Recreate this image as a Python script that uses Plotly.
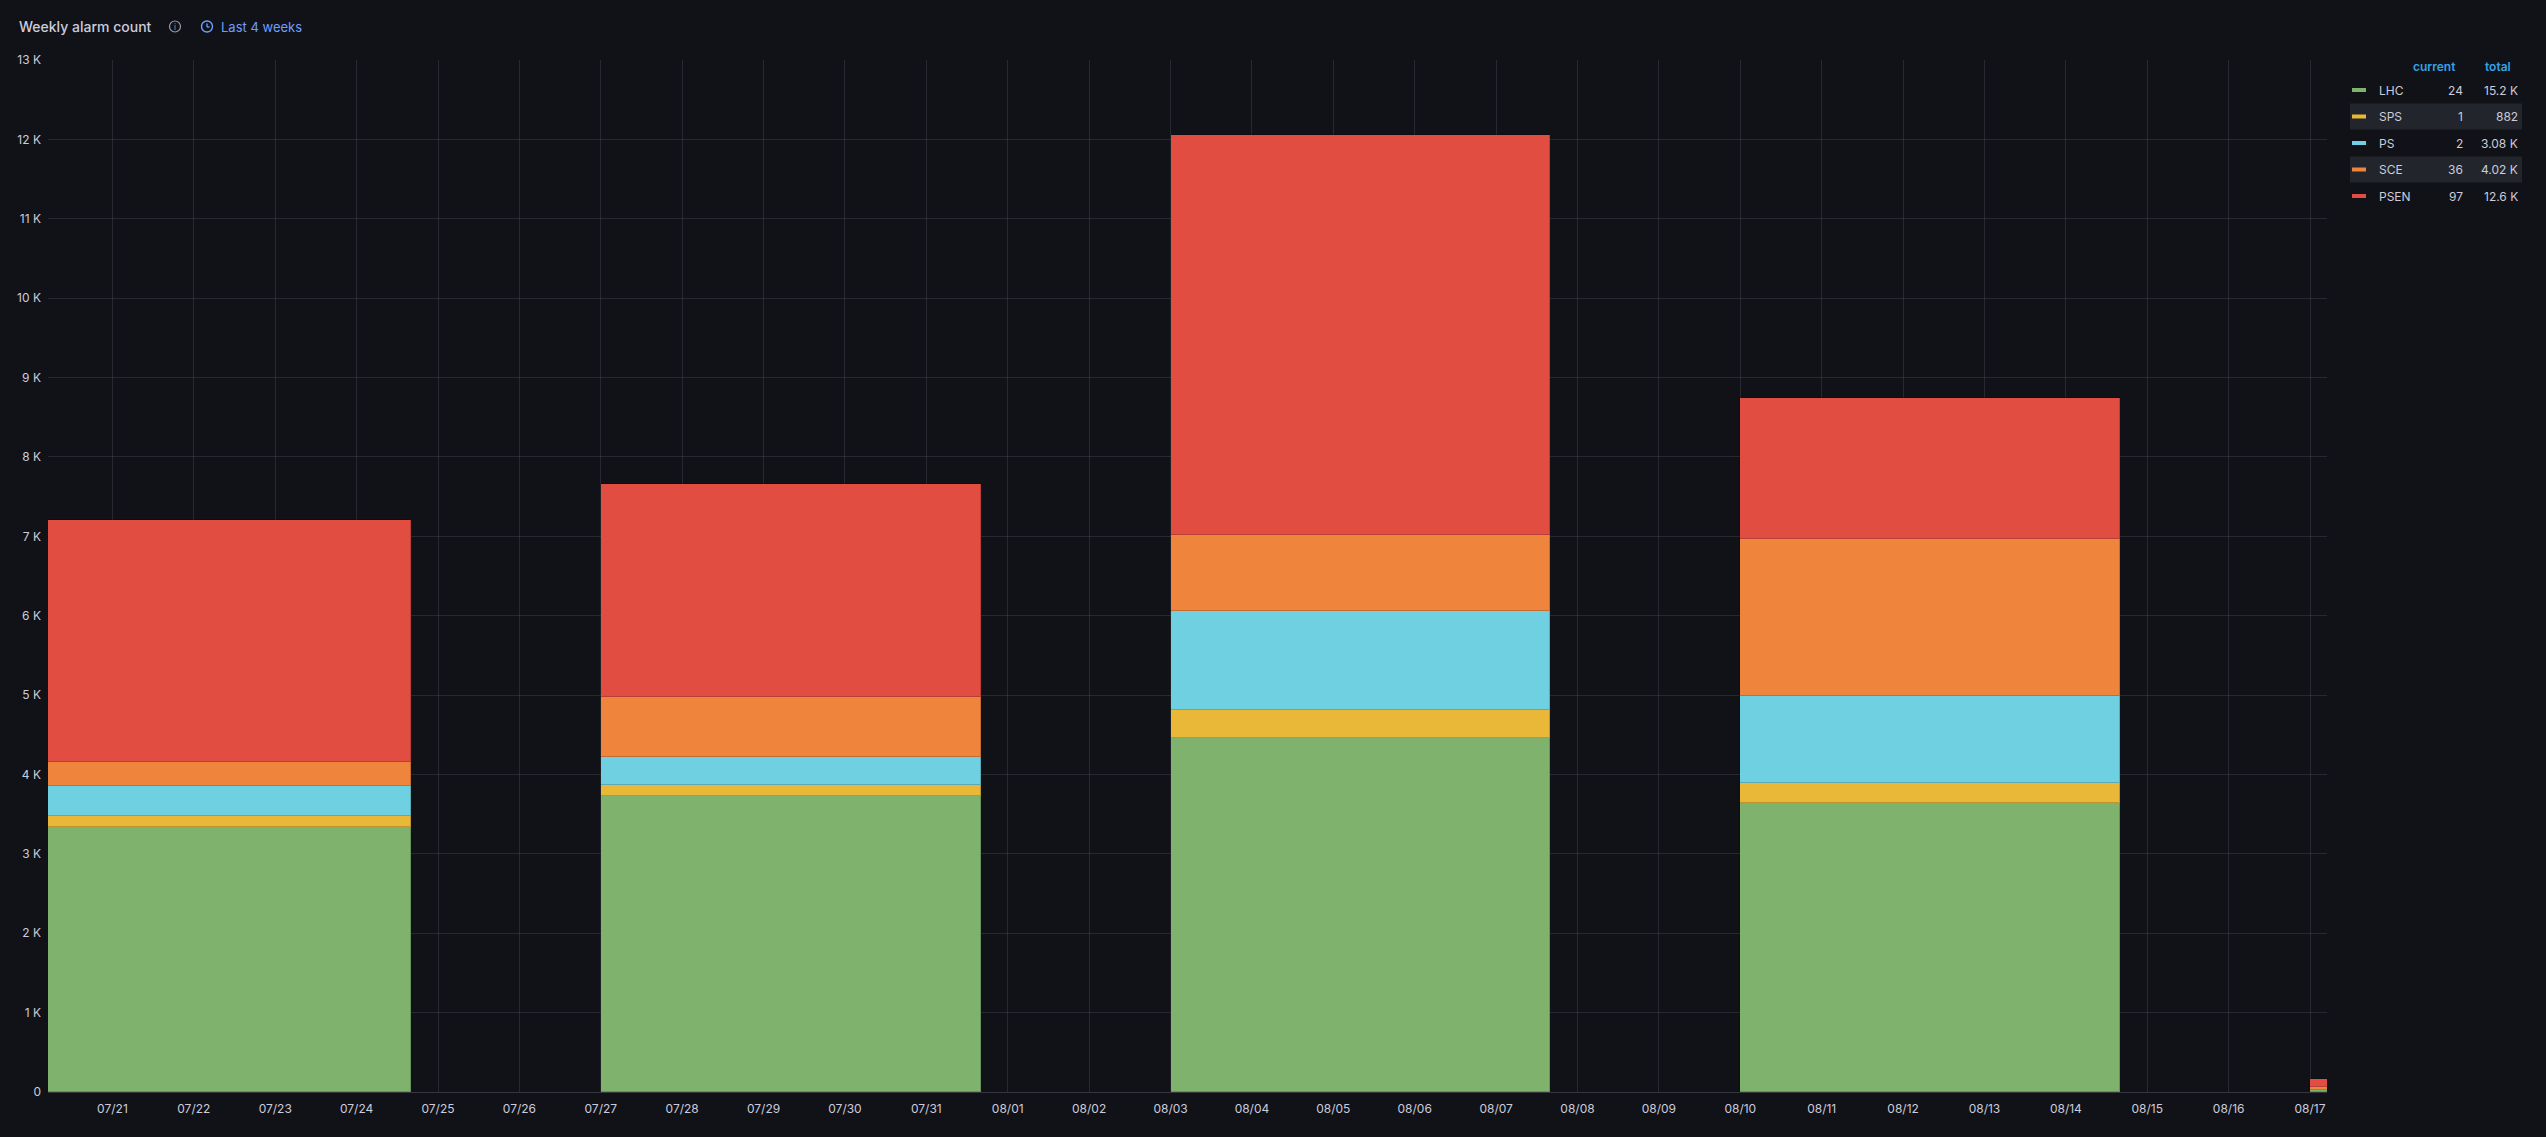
"""
Weekly alarm count - stacked weekly bars, Grafana dark style
"""
import plotly.graph_objects as go

# week start dates (one bar per week)
weeks = ["2025-07-20", "2025-07-27", "2025-08-03", "2025-08-10", "2025-08-17"]

# alarm counts per week
lhc = [3340, 3735, 4454, 3638, 24]
sps = [131, 136, 356, 258, 1]
ps = [378, 355, 1254, 1092, 2]
sce = [312, 745, 947, 1980, 36]
psen = [3045, 2690, 5040, 1775, 97]

series_names = ["LHC", "SPS", "PS", "SCE", "PSEN"]
series_colors = ["#7EB26D", "#EAB839", "#6ED0E0", "#EF843C", "#E24D42"]

y_ticks = list(range(0, 14000, 1000))
y_tick_labels = ["0"] + [f"{v // 1000} K" for v in y_ticks[1:]]

# page geometry (pixels)
W, H = 2546, 1137
L, R, T, B = 48, 2327, 60, 1092

BG = "#111217"
TEXT = "#ccccdc"
GRID = "rgba(204,204,220,0.13)"
BLUE = "#6E9FFF"
FONT = "Inter"


def px(x):
    return (x - L) / (R - L)


def py(y):
    return (B - y) / (B - T)


def fmt(v):
    # grafana-like short format, 3 significant digits
    if v >= 1000:
        return f"{v / 1000:.3g} K"
    return str(v)


fig = go.Figure()

week_ms = 7 * 24 * 3600 * 1000
for name, color, vals in zip(series_names, series_colors, [lhc, sps, ps, sce, psen]):
    fig.add_trace(go.Bar(
        x=weeks, y=vals, name=name,
        width=week_ms * 2 / 3, offset=0,
        marker=dict(color=color, line=dict(color="rgba(0,0,0,0.18)", width=1)),
        showlegend=False,
        hovertemplate=name + ": %{y}<extra></extra>",
    ))

fig.update_layout(
    width=W, height=H,
    margin=dict(l=L, r=W - R, t=T, b=H - B, pad=0),
    paper_bgcolor=BG, plot_bgcolor=BG,
    barmode="stack", bargap=0,
    font=dict(family=FONT, size=12, color=TEXT),
    hovermode="x",
)

fig.update_xaxes(
    type="date",
    range=["2025-07-20 05:00", "2025-08-17 05:00"],
    dtick=24 * 3600 * 1000, tick0="2025-07-21",
    tickformat="%m/%d",
    showgrid=True, gridcolor=GRID, gridwidth=1,
    showline=True, linecolor="rgba(204,204,220,0.2)",
    ticks="", ticklabelstandoff=6,
    tickfont=dict(size=12, color=TEXT),
)
fig.update_yaxes(
    range=[0, 13000],
    tickvals=y_ticks, ticktext=y_tick_labels,
    showgrid=True, gridcolor=GRID, gridwidth=1,
    zeroline=False, ticks="", ticklabelstandoff=6,
    tickfont=dict(size=12, color=TEXT),
)

ann = []
shapes = []

# panel header
ann.append(dict(x=px(17), y=py(27), xref="paper", yref="paper", xanchor="left", yanchor="middle",
                text="Weekly alarm count", showarrow=False,
                font=dict(family=FONT, size=14, color=TEXT, weight=500)))
shapes.append(dict(type="circle", xref="paper", yref="paper",
                   x0=px(169.5), x1=px(180.5), y0=py(32), y1=py(21),
                   line=dict(color="#9a9aa8", width=1.2)))
ann.append(dict(x=px(175), y=py(27), xref="paper", yref="paper", xanchor="center", yanchor="middle",
                text="i", showarrow=False, font=dict(family=FONT, size=8, color="#9a9aa8")))
shapes.append(dict(type="circle", xref="paper", yref="paper",
                   x0=px(201.5), x1=px(212.5), y0=py(32), y1=py(21),
                   line=dict(color=BLUE, width=1.4)))
shapes.append(dict(type="line", xref="paper", yref="paper",
                   x0=px(207), x1=px(207), y0=py(27), y1=py(23.5), line=dict(color=BLUE, width=1.3)))
shapes.append(dict(type="line", xref="paper", yref="paper",
                   x0=px(207), x1=px(209.5), y0=py(27), y1=py(27), line=dict(color=BLUE, width=1.3)))
ann.append(dict(x=px(219), y=py(27), xref="paper", yref="paper", xanchor="left", yanchor="middle",
                text="Last 4 weeks", showarrow=False, font=dict(family=FONT, size=13, color=BLUE)))

# legend table
HEAD_BLUE = "#33A2E5"
ann.append(dict(x=px(2458), y=py(66), xref="paper", yref="paper", xanchor="right", yanchor="middle",
                text="current", showarrow=False, font=dict(family=FONT, size=12, color=HEAD_BLUE, weight=600)))
ann.append(dict(x=px(2513), y=py(66), xref="paper", yref="paper", xanchor="right", yanchor="middle",
                text="total", showarrow=False, font=dict(family=FONT, size=12, color=HEAD_BLUE, weight=600)))

row_y0 = 90
row_h = 26.5
for i, (name, color, vals) in enumerate(zip(series_names, series_colors, [lhc, sps, ps, sce, psen])):
    yc = row_y0 + i * row_h
    if i % 2 == 1:
        shapes.append(dict(type="rect", xref="paper", yref="paper", layer="below",
                           x0=px(2350), x1=px(2522), y0=py(yc - 13), y1=py(yc + 13),
                           fillcolor="#22252b", line=dict(width=0)))
    shapes.append(dict(type="rect", xref="paper", yref="paper",
                       x0=px(2352), x1=px(2366), y0=py(yc - 2), y1=py(yc + 2),
                       fillcolor=color, line=dict(width=0)))
    ann.append(dict(x=px(2377), y=py(yc), xref="paper", yref="paper", xanchor="left", yanchor="middle",
                    text=name, showarrow=False, font=dict(family=FONT, size=12, color=TEXT)))
    ann.append(dict(x=px(2465), y=py(yc), xref="paper", yref="paper", xanchor="right", yanchor="middle",
                    text=fmt(vals[-1]), showarrow=False, font=dict(family=FONT, size=12, color=TEXT)))
    ann.append(dict(x=px(2520), y=py(yc), xref="paper", yref="paper", xanchor="right", yanchor="middle",
                    text=fmt(sum(vals)), showarrow=False, font=dict(family=FONT, size=12, color=TEXT)))

fig.update_layout(annotations=ann, shapes=shapes)

fig.write_html(
    "out.html",
    config={"displayModeBar": False},
    post_script="document.body.style.margin='0';document.body.style.background='%s';" % BG,
)
